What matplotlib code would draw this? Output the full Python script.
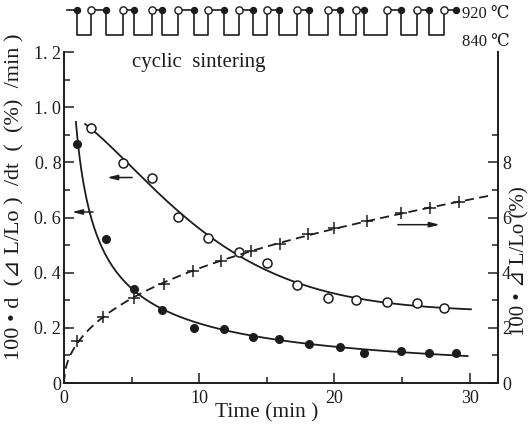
import numpy as np
import matplotlib
matplotlib.use('Agg')
import matplotlib.pyplot as plt
from matplotlib.ticker import FixedLocator, MultipleLocator

plt.rcParams['font.family'] = ['Liberation Serif', 'DejaVu Serif', 'DejaVu Sans']

# open circles: shrinkage rate, left axis
open_t = [2.0, 4.37, 6.5, 8.44, 10.67, 12.96, 15.0, 17.26, 19.5, 21.6, 23.9, 26.1, 28.1]
open_v = [0.924, 0.797, 0.743, 0.601, 0.525, 0.475, 0.435, 0.355, 0.308, 0.30, 0.293, 0.29, 0.272]

# filled circles: shrinkage rate, left axis
filled_t = [0.96, 3.1, 5.2, 7.26, 9.6, 11.85, 14.0, 15.9, 18.1, 20.4, 22.2, 24.9, 27.0, 29.0]
filled_v = [0.866, 0.522, 0.34, 0.264, 0.2, 0.196, 0.167, 0.159, 0.141, 0.13, 0.108, 0.116, 0.108, 0.108]

# crosses: shrinkage, right axis
cross_t = [0.96, 2.89, 5.19, 7.4, 9.56, 11.6, 13.85, 16.0, 18.07, 20.0, 22.4, 24.96, 27.1, 29.2]
cross_v = [1.52, 2.41, 3.07, 3.59, 4.07, 4.44, 4.78, 5.04, 5.41, 5.63, 5.89, 6.15, 6.33, 6.56]

left_ticks = [0, 0.2, 0.4, 0.6, 0.8, 1.0, 1.2]
left_labels = ['0', '0. 2', '0. 4', '0. 6', '0. 8', '1. 0', '1. 2']
right_ticks = [0, 2, 4, 6, 8]

ink = '#1c1c1c'


def stretched_exp_fit(t, v):
    # v = c + a*exp(-(t/tau)**p); tau, p by grid search, a and c by least squares
    t, v = np.array(t), np.array(v)
    best = None
    for tau in np.linspace(3, 30, 136):
        for p in np.linspace(0.6, 2.6, 41):
            A = np.column_stack([np.ones_like(t), np.exp(-(t / tau) ** p)])
            coef = np.linalg.lstsq(A, v, rcond=None)[0]
            err = np.sum((A @ coef - v) ** 2)
            if best is None or err < best[0]:
                best = (err, tau, p, coef)
    _, tau, p, (c, a) = best
    return lambda x: c + a * np.exp(-(x / tau) ** p)


def main():
    fig = plt.figure(figsize=(5.32, 4.28), dpi=100)
    ax = fig.add_axes([0.1203, 0.1051, 0.8157, 0.7734])
    ax2 = ax.twinx()

    # smooth fitted curves through the measured points
    lf = np.polyfit(np.log(filled_t), np.log(filled_v), 2)
    tf = np.linspace(0.88, 29.85, 300)
    ax.plot(tf, np.exp(np.polyval(lf, np.log(tf))), color=ink, lw=1.3)

    fo = stretched_exp_fit(open_t, open_v)
    to = np.linspace(1.56, 30.1, 300)
    ax.plot(to, fo(to), color=ink, lw=1.3)

    ct = np.array(cross_t)
    basis = np.column_stack([np.sqrt(ct), ct, ct ** 2])
    coef = np.linalg.lstsq(basis, np.array(cross_v), rcond=None)[0]
    tc = np.linspace(0, 31.4, 400)
    ax2.plot(tc, coef[0] * np.sqrt(tc) + coef[1] * tc + coef[2] * tc ** 2,
             color=ink, lw=1.3, dashes=(5, 3))

    ax.plot(open_t, open_v, 'o', mfc='white', mec=ink, mew=1.1, ms=6.5)
    ax.plot(filled_t, filled_v, 'o', color=ink, ms=5.5)
    ax2.plot(cross_t, cross_v, '+', color=ink, mew=1.1, ms=8)

    # arrows pointing to the axis each curve belongs to
    arr = dict(arrowstyle='-|>,head_length=0.6,head_width=0.15', color=ink, lw=1.1,
               shrinkA=0, shrinkB=0)
    ax.annotate('', xy=(0.59, 0.62), xytext=(2.15, 0.62), arrowprops=arr)
    ax.annotate('', xy=(3.19, 0.745), xytext=(5.04, 0.745), arrowprops=arr)
    ax2.annotate('', xy=(27.8, 5.74), xytext=(24.7, 5.74), arrowprops=arr)

    # temperature cycle diagram above the plot
    hi, lw_ = 1.127, 1.051
    trans = ax.get_xaxis_transform()
    xs, ys = [0.2], [hi]
    events = sorted([(t, 'f') for t in filled_t[:-1]] + [(t, 'o') for t in open_t])
    for t, kind in events:
        xs += [t, t]
        ys += [hi, lw_] if kind == 'f' else [lw_, hi]
    xs.append(filled_t[-1])
    ys.append(hi)
    ax.plot(xs, ys, color=ink, lw=1.2, transform=trans, clip_on=False)
    ax.plot(filled_t, [hi] * len(filled_t), 'o', color=ink, ms=4.3,
            transform=trans, clip_on=False)
    ax.plot(open_t, [hi] * len(open_t), 'o', mfc='white', mec=ink, mew=1.0, ms=5.2,
            transform=trans, clip_on=False)

    ax.set_xlim(0, 32.1)
    ax.set_ylim(0, 1.2)
    ax2.set_ylim(0, 12)

    ax.xaxis.set_major_locator(FixedLocator([0, 10, 20, 30]))
    ax.xaxis.set_minor_locator(FixedLocator([5, 15, 25]))
    ax.yaxis.set_major_locator(FixedLocator(left_ticks))
    ax.set_yticklabels(left_labels)
    ax.yaxis.set_minor_locator(MultipleLocator(0.1))
    ax2.yaxis.set_major_locator(FixedLocator(right_ticks))
    ax2.yaxis.set_minor_locator(FixedLocator([1, 3, 5, 7, 9]))

    for a in (ax, ax2):
        a.spines['top'].set_visible(False)
        for s in a.spines.values():
            s.set_color(ink)
            s.set_linewidth(1.2)
        a.tick_params(which='major', direction='in', length=7, width=1.1,
                      color=ink, labelsize=13, labelcolor=ink)
        a.tick_params(which='minor', direction='in', length=4.5, width=1.1, color=ink)
    ax.tick_params(axis='x', pad=5)
    ax.tick_params(axis='y', pad=2)
    ax2.tick_params(axis='y', pad=3)

    fig.text(0.502, 0.035, 'Time (min )', ha='center', va='center', fontsize=15.5, color=ink)
    fig.text(0.028, 0.54, '100 • d  (⊿ L/Lo )  /dt  (  (%)  /min )', rotation=90,
             ha='center', va='center', fontsize=16, color=ink)
    fig.text(0.978, 0.39, '100 • ⊿ L/Lo (%)', rotation=90,
             ha='center', va='center', fontsize=15, color=ink)
    fig.text(0.248, 0.855, 'cyclic  sintering', ha='left', va='center', fontsize=15, color=ink)
    fig.text(0.868, 0.967, '920 ℃', ha='left', va='center', fontsize=12, color=ink)
    fig.text(0.868, 0.902, '840 ℃', ha='left', va='center', fontsize=12, color=ink)

    fig.savefig('out.png', dpi=100)


if __name__ == '__main__':
    main()
